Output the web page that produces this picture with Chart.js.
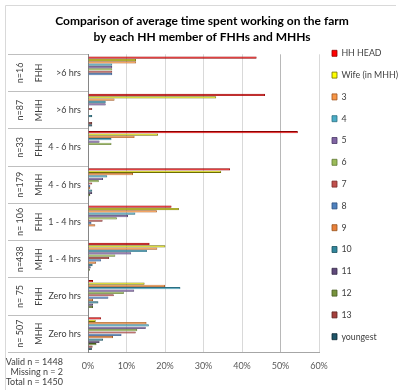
<!DOCTYPE html>
<html>
<head>
<meta charset="utf-8">
<script src="https://cdn.jsdelivr.net/npm/chart.js@4.4.1/dist/chart.umd.min.js"></script>
<style>
  html, body { margin: 0; padding: 0; background: #ffffff; }
  #wrap { width: 398px; height: 390px; }
</style>
</head>
<body>
<div id="wrap"><canvas id="chart" width="398" height="390"></canvas></div>
<script>
// Category labels (three levels: sample size, household type, hours worked)
const sampleSizes = ['n=16', 'n=87', 'n=33', 'n=179', 'n= 106', 'n=438', 'n= 75', 'n= 507'];
const headTypes = ['FHH', 'MHH', 'FHH', 'MHH', 'FHH', 'MHH', 'FHH', 'MHH'];
const hourBands = ['>6 hrs', '>6 hrs', '4 - 6 hrs', '4 - 6 hrs', '1 - 4 hrs', '1 - 4 hrs', 'Zero hrs', 'Zero hrs'];

// Household members (series names)
const members = ['HH HEAD', 'Wife (in MHH)', '3', '4', '5', '6', '7', '8', '9', '10', '11', '12', '13', 'youngest'];

// Share of each member (%) per category, top to bottom
const hhHead   = [43.8, 46.0, 54.5, 36.9, 21.7, 16.0,  1.3,  3.4];
const wife     = [12.5, 33.3, 18.2, 34.6, 23.6, 20.1, 14.7,  2.0];
const member3  = [12.5,  6.9, 12.1, 11.7, 17.9, 18.0, 20.0, 15.2];
const member4  = [ 6.3,  4.6,  6.1,  5.0, 12.3, 15.3, 24.0, 15.8];
const member5  = [ 6.3,  4.6,  3.0,  3.9, 10.4, 11.2, 12.0, 15.0];
const member6  = [ 6.3,  0.0,  6.1,  2.8,  7.5,  7.1,  9.3, 12.8];
const member7  = [ 6.3,  1.1,  0.0,  1.1,  3.8,  5.5,  6.7, 12.4];
const member8  = [ 6.3,  0.0,  0.0,  0.6,  0.9,  3.4,  5.3,  8.7];
const member9  = [ 0.0,  0.0,  0.0,  0.6,  1.9,  2.1,  1.3,  6.5];
const member10 = [ 0.0,  1.1,  0.0,  1.1,  0.0,  1.2,  2.7,  3.9];
const member11 = [ 0.0,  0.0,  0.0,  1.1,  0.0,  0.7,  1.3,  3.0];
const member12 = [ 0.0,  0.0,  0.0,  0.6,  0.0,  0.5,  1.3,  2.2];
const member13 = [ 0.0,  1.1,  0.0,  0.0,  0.0,  0.2,  0.0,  1.2];
const youngest = [ 0.0,  1.1,  0.0,  0.0,  0.0,  0.2,  0.0,  1.0];

// Axis ticks (%)
const xTicks = [0, 10, 20, 30, 40, 50, 60];

// Sample summary shown under the category labels
const sampleNotes = ['Valid n = 1448', 'Missing n = 2', 'Total n = 1450'];

const seriesValues = [hhHead, wife, member3, member4, member5, member6, member7,
                      member8, member9, member10, member11, member12, member13, youngest];

const fills   = ['#FF0000', '#FFFF00', '#F79646', '#4BACC6', '#8064A2', '#9BBB59', '#C0504D',
                 '#4F81BD', '#E8803A', '#31869B', '#604A7B', '#77933C', '#A5403D', '#1F5568'];
const strokes = ['#8E0000', '#6E6E00', '#A0541E', '#2A6E82', '#4A3868', '#5E7832', '#7A2C2A',
                 '#2E5180', '#95501C', '#1B5260', '#352846', '#465A22', '#5E2422', '#0B2530'];

const FONT = 'Lato, "Liberation Sans", sans-serif';

// Frame lines, category label columns and sample notes
const decorations = {
  id: 'decorations',
  beforeDraw(chart) {
    const ctx = chart.ctx;
    ctx.save();
    ctx.strokeStyle = '#d9d9d9';
    ctx.lineWidth = 1;
    ctx.beginPath();
    ctx.moveTo(5.5, 390);
    ctx.lineTo(5.5, 5.5);
    ctx.lineTo(396, 5.5);
    ctx.stroke();
    ctx.restore();
  },
  afterDraw(chart) {
    const ctx = chart.ctx;
    const ys = chart.scales.y;
    ctx.save();
    ctx.fillStyle = '#404040';
    ctx.font = '9px ' + FONT;
    ctx.textBaseline = 'middle';
    sampleSizes.forEach((lbl, i) => {
      const y = ys.getPixelForValue(i);
      ctx.save();
      ctx.translate(20, y);
      ctx.rotate(-Math.PI / 2);
      ctx.textAlign = 'center';
      ctx.fillText(lbl, 0, 0);
      ctx.restore();
      ctx.save();
      ctx.translate(38.7, y);
      ctx.rotate(-Math.PI / 2);
      ctx.textAlign = 'center';
      ctx.fillText(headTypes[i], 0, 0);
      ctx.restore();
      ctx.textAlign = 'right';
      ctx.fillText(hourBands[i], 81, y);
    });
    ctx.textAlign = 'right';
    sampleNotes.forEach((t, k) => ctx.fillText(t, 63, 362.5 + k * 9.7));
    ctx.restore();
  }
};

new Chart(document.getElementById('chart'), {
  type: 'bar',
  data: {
    labels: hourBands,
    datasets: members.map((name, k) => ({
      label: name,
      data: seriesValues[k],
      backgroundColor: fills[k],
      borderColor: strokes[k],
      borderWidth: 0.8,
      categoryPercentage: 0.88,
      barPercentage: 0.95
    }))
  },
  options: {
    indexAxis: 'y',
    responsive: false,
    animation: false,
    devicePixelRatio: 1,
    layout: { padding: { left: 6, right: 0, top: 0, bottom: 0 } },
    scales: {
      x: {
        min: 0,
        max: 60,
        afterBuildTicks(scale) { scale.ticks = xTicks.map(v => ({ value: v })); },
        ticks: {
          callback: v => v + '%',
          color: '#595959',
          font: { family: FONT, size: 9 },
          padding: 8,
          maxRotation: 0
        },
        grid: {
          color: c => (c.tick && c.tick.value === 50 ? '#b8b8b8' : '#d9d9d9'),
          drawTicks: false
        },
        border: { color: '#a6a6a6' },
        afterFit(scale) { scale.height = 37.7; }
      },
      y: {
        ticks: { display: false },
        grid: { drawOnChartArea: false, drawTicks: true, tickLength: 80, color: '#bfbfbf', offset: true },
        border: { color: '#868686' },
        afterFit(scale) { scale.width = 82; }
      }
    },
    plugins: {
      title: {
        display: true,
        text: ['Comparison of average time spent working on the farm', 'by each HH member of FHHs and MHHs'],
        color: '#000000',
        font: { family: FONT, size: 12, weight: 'bold', lineHeight: 16 / 12 },
        padding: { top: 13, bottom: 9.3 }
      },
      legend: {
        position: 'right',
        align: 'center',
        maxWidth: 79,
        labels: {
          boxWidth: 5,
          boxHeight: 6,
          padding: 13,
          color: '#404040',
          font: { family: FONT, size: 8.8 }
        }
      },
      tooltip: { enabled: false }
    }
  },
  plugins: [decorations]
});
</script>
</body>
</html>
